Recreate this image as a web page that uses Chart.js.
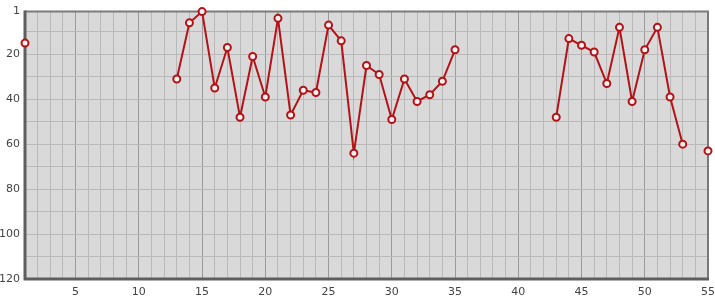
<!DOCTYPE html>
<html>
<head>
<meta charset="utf-8">
<script src="https://cdn.jsdelivr.net/npm/chart.js@4/dist/chart.umd.min.js"></script>
<style>
  html, body { margin: 0; padding: 0; background: #fff; }
  #wrap { width: 715px; height: 300px; }
</style>
</head>
<body>
<div id="wrap"><canvas id="c" width="715" height="300"></canvas></div>
<script>
// week numbers and chart positions (null = not charted)
const weeks = [];
for (let w = 1; w <= 55; w++) weeks.push(w);
const positions = [
    15, null, null, null, null, null, null, null, null, null,
    null, null, 31, 6, 1, 35, 17, 48, 21, 39,
    4, 47, 36, 37, 7, 14, 64, 25, 29, 49,
    31, 41, 38, 32, 18, null, null, null, null, null,
    null, null, 48, 13, 16, 19, 33, 8, 41, 18,
    8, 39, 60, null, 63
];
const yTicks = [1, 10, 20, 30, 40, 50, 60, 70, 80, 90, 100, 110, 120];
const yLabels = [1, 20, 40, 60, 80, 100, 120];

// grey plot background + frame
const plotFrame = {
    id: 'plotFrame',
    beforeDraw(chart) {
        const { ctx, chartArea: a } = chart;
        ctx.save();
        ctx.fillStyle = '#d9d9d9';
        ctx.fillRect(a.left, a.top, a.right - a.left, a.bottom - a.top);
        ctx.restore();
    },
    beforeDatasetsDraw(chart) {
        const { ctx, chartArea: a } = chart;
        ctx.save();
        ctx.strokeStyle = '#7a7a7a';
        ctx.lineWidth = 2;
        ctx.beginPath();
        ctx.moveTo(a.left, a.top);
        ctx.lineTo(a.right, a.top);
        ctx.lineTo(a.right, a.bottom);
        ctx.stroke();
        ctx.strokeStyle = '#5e5e5e';
        ctx.lineWidth = 3;
        ctx.beginPath();
        ctx.moveTo(a.left, a.top - 1);
        ctx.lineTo(a.left, a.bottom);
        ctx.lineTo(a.right + 1, a.bottom);
        ctx.stroke();
        ctx.restore();
    }
};

new Chart(document.getElementById('c'), {
    type: 'line',
    data: {
        datasets: [{
            data: weeks.map((w, i) => ({ x: w, y: positions[i] })),
            borderColor: '#b31217',
            borderWidth: 2,
            pointRadius: 3.5,
            pointBorderWidth: 2,
            pointBackgroundColor: '#f2f2f2',
            pointBorderColor: '#b31217',
            spanGaps: false,
            tension: 0,
            clip: false
        }]
    },
    options: {
        responsive: false,
        animation: false,
        layout: { padding: { top: 10, right: 0, left: 0, bottom: 0 } },
        plugins: { legend: { display: false }, tooltip: { enabled: false } },
        scales: {
            x: {
                type: 'linear',
                min: 1,
                max: 55,
                afterBuildTicks: axis => { axis.ticks = weeks.map(v => ({ value: v })); },
                afterFit: axis => { axis.height = 21; axis.paddingRight = 7; },
                grid: {
                    drawTicks: false,
                    lineWidth: 1,
                    color: ctx => (ctx.tick && ctx.tick.value % 5 === 0) ? '#9a9a9a' : '#b9b9b9'
                },
                border: { display: false },
                ticks: {
                    autoSkip: false,
                    maxRotation: 0,
                    padding: 7,
                    color: '#444',
                    font: { family: 'DejaVu Sans', size: 11 },
                    callback: v => (v % 5 === 0 ? String(v) : '')
                }
            },
            y: {
                type: 'linear',
                reverse: true,
                min: 1,
                max: 120,
                afterBuildTicks: axis => { axis.ticks = yTicks.map(v => ({ value: v })); },
                afterFit: axis => { axis.width = 25; },
                grid: { drawTicks: false, color: '#b9b9b9', lineWidth: 1 },
                border: { display: false },
                ticks: {
                    autoSkip: false,
                    padding: 5,
                    color: '#444',
                    font: { family: 'DejaVu Sans', size: 11 },
                    callback: v => (yLabels.includes(v) ? String(v) : '')
                }
            }
        }
    },
    plugins: [plotFrame]
});
</script>
</body>
</html>
